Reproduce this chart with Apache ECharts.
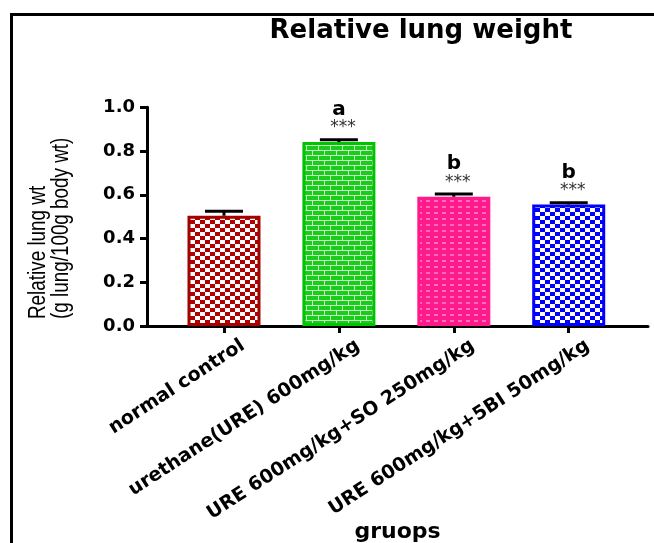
<!DOCTYPE html>
<html><head><meta charset="utf-8">
<script src="https://cdn.jsdelivr.net/npm/echarts@6/dist/echarts.min.js"></script>
<style>html,body{margin:0;padding:0;background:#fff}#c{width:654px;height:543px}</style>
</head><body><div id="c"></div>
<script>
// ---- data ----
const categories = ['normal control', 'urethane(URE) 600mg/kg', 'URE 600mg/kg+SO 250mg/kg', 'URE 600mg/kg+5BI 50mg/kg'];
const means = [0.504, 0.841, 0.591, 0.556];
const errors = [0.021, 0.011, 0.012, 0.007];
const letters = ['', 'a', 'b', 'b'];
const stars = ['', '***', '***', '***'];
const yTicks = [0, 0.2, 0.4, 0.6, 0.8, 1.0];
const catIndex = categories.map((c, i) => i);
const labelShift = 0.12; // labels sit slightly right of their tick, as in the original

// ---- patterns ----
function mk(w, h, draw) {
  const cv = document.createElement('canvas'); cv.width = w; cv.height = h;
  draw(cv.getContext('2d')); return cv;
}
function checker(bg, fg) {
  return mk(10, 8, g => {
    g.fillStyle = bg; g.fillRect(0, 0, 10, 8);
    g.fillStyle = fg; g.fillRect(0, 0, 5, 4); g.fillRect(5, 4, 5, 4);
  });
}
const redPat = checker('#b00000', '#ffffff');
const bluePat = checker('#0000ff', '#ffffff');
const greenPat = mk(12, 10, g => {
  g.fillStyle = '#1ccc1c'; g.fillRect(0, 0, 12, 10);
  g.fillStyle = '#c4f2c4';
  g.fillRect(0, 0, 12, 1); g.fillRect(0, 5, 12, 1);
  g.fillRect(0, 0, 1, 5); g.fillRect(6, 5, 1, 5);
});
const pinkPat = mk(8, 6, g => {
  g.fillStyle = '#ff1a8c'; g.fillRect(0, 0, 8, 6);
  g.fillStyle = '#ff6fb8'; g.fillRect(2, 2, 4, 2);
});
const fills = [redPat, greenPat, pinkPat, bluePat];
const borders = ['#a30000', '#00c400', '#ff1a8c', '#0000ff'];

const chart = echarts.init(document.getElementById('c'), null, {renderer: 'canvas'});
const bold = 'DejaVu Sans';
chart.setOption({
  animation: false,
  backgroundColor: '#fff',
  graphic: [
    {type: 'rect', shape: {x: 11.5, y: 14.5, width: 900, height: 900}, style: {fill: 'none', stroke: '#000', lineWidth: 3}, silent: true},
    {type: 'text', x: 421, y: 31, style: {text: 'Relative lung weight', font: 'bold 26px "DejaVu Sans"', fill: '#000', textAlign: 'center', textVerticalAlign: 'middle'}},
    {type: 'text', x: 27, y: 319, rotation: Math.PI / 2, scaleX: 0.82,
      style: {text: 'Relative lung wt\n(g lung/100g body wt)', font: '23px "Liberation Sans", Arial, sans-serif', lineHeight: 23, fill: '#000', textAlign: 'left', textVerticalAlign: 'top'}}
  ],
  grid: {left: 147, top: 107.3, width: 501, height: 218.7, containLabel: false, outerBoundsMode: 'none'},
  xAxis: {
    type: 'value', min: -0.67, max: 3.69,
    splitLine: {show: false},
    axisLine: {show: true, onZero: false, lineStyle: {color: '#000', width: 3}},
    axisTick: {show: true, customValues: catIndex, length: 7, lineStyle: {color: '#000', width: 3}},
    axisLabel: {customValues: catIndex.map(i => i + labelShift), formatter: v => categories[Math.round(v)], rotate: 33, margin: 10,
      align: 'right', verticalAlign: 'top',
      fontFamily: bold, fontWeight: 'bold', fontSize: 19, color: '#000'},
    name: 'gruops', nameLocation: 'middle', nameGap: 195, nameMoveOverlap: false,
    nameTextStyle: {fontFamily: bold, fontWeight: 'bold', fontSize: 22, color: '#000'}
  },
  yAxis: {
    type: 'value', min: 0, max: 1, interval: 0.2,
    splitLine: {show: false},
    axisLine: {show: true, onZero: false, lineStyle: {color: '#000', width: 3}},
    axisTick: {show: true, length: 7, lineStyle: {color: '#000', width: 3}},
    axisLabel: {formatter: v => v.toFixed(1), margin: 12, fontFamily: bold, fontWeight: 'bold', fontSize: 18, color: '#000'}
  },
  series: [
    {
      type: 'bar', barWidth: 73,
      data: means.map((v, i) => ({value: [catIndex[i], v], itemStyle: {color: {image: fills[i], repeat: 'repeat'}, borderColor: borders[i], borderWidth: 3}})),
      z: 2
    },
    {
      type: 'custom', z: 5,
      data: means.map((v, i) => [catIndex[i], v, errors[i]]),
      renderItem: (params, api) => {
        const i = params.dataIndex;
        const m = api.value(1), e = api.value(2);
        const b = api.coord([api.value(0), m]);
        const t = api.coord([api.value(0), m + e]);
        const half = 19;
        const ch = [
          {type: 'line', shape: {x1: b[0], y1: b[1], x2: t[0], y2: t[1]}, style: {stroke: '#000', lineWidth: 3}},
          {type: 'line', shape: {x1: t[0] - half, y1: t[1], x2: t[0] + half, y2: t[1]}, style: {stroke: '#000', lineWidth: 3}}
        ];
        if (letters[i]) ch.push({type: 'text', x: t[0], y: t[1] - 30, style: {text: letters[i], font: 'bold 20px "DejaVu Sans"', fill: '#000', textAlign: 'center', textVerticalAlign: 'middle'}});
        if (stars[i]) ch.push({type: 'text', x: t[0] + 4, y: t[1] - 12, style: {text: stars[i], font: '17px "DejaVu Sans"', fill: '#333', textAlign: 'center', textVerticalAlign: 'middle'}});
        return {type: 'group', children: ch};
      }
    }
  ]
});
</script></body></html>
